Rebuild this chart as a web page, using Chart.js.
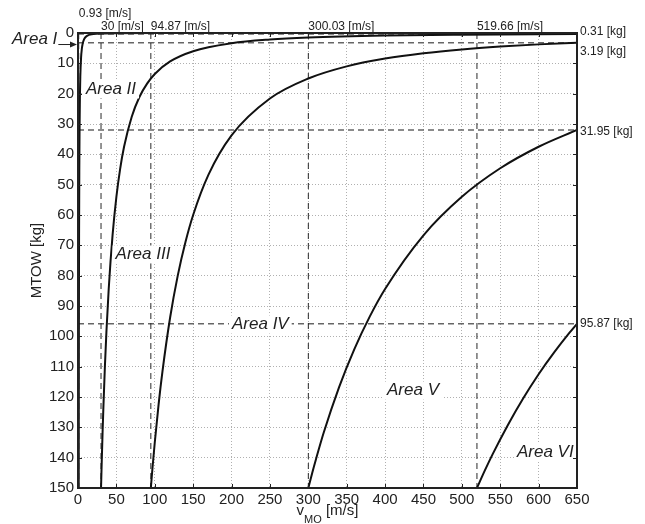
<!DOCTYPE html>
<html>
<head>
<meta charset="utf-8">
<script src="https://cdn.jsdelivr.net/npm/chart.js@4/dist/chart.umd.min.js"></script>
<style>
  html, body { margin: 0; padding: 0; background: #fff; }
  #wrap { width: 645px; height: 524px; }
</style>
</head>
<body>
<div id="wrap"><canvas id="chart" width="645" height="524"></canvas></div>
<script>
// speeds where each boundary curve meets MTOW = 150 kg
const boundarySpeeds = [0.93, 30, 94.87, 300.03, 519.66];
// MTOW where each boundary curve leaves the plot at v = 650 m/s
const boundaryMasses = [0.31, 3.19, 31.95, 95.87];

// constant kinetic-energy boundaries (v [m/s], MTOW [kg])
const curve1Speed = [0.93, 0.95, 1, 1.1, 1.2, 1.4, 1.7, 2, 2.5, 3, 4, 5, 6, 8, 10, 13, 16, 20, 30, 50, 100, 650];
const curve1Mass  = [150, 143.8, 129.7, 107.2, 90.1, 66.2, 44.9, 32.4, 20.8, 14.4, 8.11, 5.19, 3.60, 2.03, 1.30, 0.77, 0.51, 0.32, 0.14, 0.05, 0.013, 0.0003];

const curve2Speed = [30, 31, 32, 33, 35, 37, 40, 45, 50, 55, 60, 70, 80, 90, 100, 120, 150, 200, 250, 300, 400, 500, 650];
const curve2Mass  = [150, 140.5, 131.8, 124.0, 110.2, 98.6, 84.4, 66.7, 54.0, 44.6, 37.5, 27.6, 21.1, 16.7, 13.5, 9.38, 6.0, 3.38, 2.16, 1.5, 0.84, 0.54, 0.31];

const curve3Speed = [94.87, 97, 100, 105, 110, 120, 130, 140, 150, 170, 200, 250, 300, 350, 400, 450, 500, 550, 600, 650];
const curve3Mass  = [150, 143.5, 135.0, 122.4, 111.6, 93.8, 79.9, 68.9, 60.0, 46.7, 33.75, 21.6, 15.0, 11.0, 8.44, 6.67, 5.4, 4.46, 3.75, 3.19];

const curve4Speed = [300.03, 305, 310, 320, 340, 360, 380, 400, 450, 500, 550, 600, 650];
const curve4Mass  = [150, 145.1, 140.5, 131.8, 116.8, 104.2, 93.5, 84.4, 66.7, 54.0, 44.6, 37.5, 31.95];

const curve5Speed = [519.66, 530, 540, 560, 580, 600, 620, 640, 650];
const curve5Mass  = [150, 144.2, 138.9, 129.2, 120.4, 112.5, 105.4, 98.9, 95.87];

const areaNames = ["Area I", "Area II", "Area III", "Area IV", "Area V", "Area VI"];

const speedMax = 650;
const massMax = 150;

// where the area names sit, in axis units (left edge, vertical centre)
const areaLabelAt = [[-86, 2.1], [10.4, 18.6], [49, 73], [200.6, 96.1], [402.5, 117.9], [571.8, 138.3]];
const topLabelY = [14, 26.5, 26.5, 26.5, 26.5];
const rightLabelDy = [-2.5, 9, 1.3, 0];

const FONT = '"Liberation Sans", Arial, Helvetica, sans-serif';
const INK = '#222';

function pairs(xs, ys) {
  return xs.map((x, i) => ({ x: x, y: ys[i] }));
}

const curves = [
  [curve1Speed, curve1Mass],
  [curve2Speed, curve2Mass],
  [curve3Speed, curve3Mass],
  [curve4Speed, curve4Mass],
  [curve5Speed, curve5Mass]
];

const datasets = [];
curves.forEach(c => {
  datasets.push({
    data: pairs(c[0], c[1]),
    showLine: true,
    borderColor: '#111',
    borderWidth: 2,
    pointRadius: 0,
    cubicInterpolationMode: 'monotone'
  });
});
boundarySpeeds.forEach(v => {
  datasets.push({
    data: [{ x: v, y: 0 }, { x: v, y: massMax }],
    showLine: true,
    borderColor: '#2a2a2a',
    borderWidth: 1,
    borderDash: [6, 4],
    pointRadius: 0
  });
});
boundaryMasses.forEach(m => {
  datasets.push({
    data: [{ x: 0, y: m }, { x: speedMax, y: m }],
    showLine: true,
    borderColor: '#666',
    borderWidth: 1.5,
    borderDash: [6, 4],
    pointRadius: 0
  });
});

const framePlugin = {
  id: 'frame',
  afterDatasetsDraw(chart) {
    const ctx = chart.ctx;
    const xs = chart.scales.x, ys = chart.scales.y;
    const a = chart.chartArea;

    // area names, with a white box behind the ones inside the plot
    ctx.save();
    ctx.font = 'italic 17px ' + FONT;
    ctx.textBaseline = 'middle';
    ctx.textAlign = 'left';
    areaNames.forEach((name, i) => {
      const px = xs.getPixelForValue(areaLabelAt[i][0]);
      const py = ys.getPixelForValue(areaLabelAt[i][1]);
      const w = ctx.measureText(name).width;
      if (i > 0) {
        ctx.fillStyle = '#fff';
        ctx.fillRect(px - 3, py - 9, w + 6, 18);
      }
      ctx.fillStyle = INK;
      ctx.fillText(name, px, py);
      if (i === 0) {
        // arrow from "Area I" to the first boundary
        const ay = ys.getPixelForValue(3.8);
        const x1 = px + w + 1, x2 = a.left - 1;
        ctx.strokeStyle = INK;
        ctx.lineWidth = 1;
        ctx.beginPath();
        ctx.moveTo(x1, ay);
        ctx.lineTo(x2 - 5, ay);
        ctx.stroke();
        ctx.beginPath();
        ctx.moveTo(x2, ay);
        ctx.lineTo(x2 - 7, ay - 3);
        ctx.lineTo(x2 - 7, ay + 3);
        ctx.closePath();
        ctx.fill();
      }
    });
    ctx.restore();

    // box and inward ticks
    ctx.save();
    ctx.strokeStyle = INK;
    ctx.lineWidth = 1;
    xs.ticks.forEach(t => {
      const px = Math.round(xs.getPixelForValue(t.value)) + 0.5;
      ctx.beginPath();
      ctx.moveTo(px, a.bottom); ctx.lineTo(px, a.bottom - 4);
      ctx.moveTo(px, a.top); ctx.lineTo(px, a.top + 4);
      ctx.stroke();
    });
    ys.ticks.forEach(t => {
      const py = Math.round(ys.getPixelForValue(t.value)) + 0.5;
      ctx.beginPath();
      ctx.moveTo(a.left, py); ctx.lineTo(a.left + 4, py);
      ctx.moveTo(a.right, py); ctx.lineTo(a.right - 4, py);
      ctx.stroke();
    });
    ctx.lineWidth = 2;
    ctx.strokeRect(a.left, a.top, a.right - a.left, a.bottom - a.top);
    ctx.restore();

    // boundary values above and to the right of the plot
    ctx.save();
    ctx.font = '12px ' + FONT;
    ctx.fillStyle = INK;
    ctx.textBaseline = 'middle';
    ctx.textAlign = 'left';
    boundarySpeeds.forEach((v, i) => {
      ctx.fillText(v + ' [m/s]', xs.getPixelForValue(v), topLabelY[i]);
    });
    boundaryMasses.forEach((m, i) => {
      ctx.fillText(m + ' [kg]', a.right + 3, ys.getPixelForValue(m) + rightLabelDy[i]);
    });
    ctx.restore();

    // axis titles
    ctx.save();
    ctx.fillStyle = INK;
    ctx.textBaseline = 'alphabetic';
    ctx.font = '15px ' + FONT;
    const wv = ctx.measureText('v').width;
    const wu = ctx.measureText(' [m/s]').width;
    ctx.font = '11px ' + FONT;
    const ws = ctx.measureText('MO').width;
    let tx = (a.left + a.right) / 2 - (wv + ws + wu) / 2;
    ctx.font = '15px ' + FONT;
    ctx.fillText('v', tx, 515);
    ctx.font = '11px ' + FONT;
    ctx.fillText('MO', tx + wv, 523);
    ctx.font = '15px ' + FONT;
    ctx.fillText(' [m/s]', tx + wv + ws, 515);

    ctx.translate(37, (a.top + a.bottom) / 2);
    ctx.rotate(-Math.PI / 2);
    ctx.textAlign = 'center';
    ctx.textBaseline = 'middle';
    ctx.fillText('MTOW [kg]', 0, 0);
    ctx.restore();
  }
};

const tickFont = { family: FONT, size: 15 };

new Chart(document.getElementById('chart'), {
  type: 'scatter',
  data: { datasets: datasets },
  options: {
    responsive: false,
    animation: false,
    layout: { padding: { left: 0, top: 33, right: 68, bottom: 0 } },
    plugins: { legend: { display: false }, tooltip: { enabled: false } },
    scales: {
      x: {
        type: 'linear',
        min: 0,
        max: speedMax,
        afterFit(s) { s.height = 36; },
        ticks: { stepSize: 50, font: tickFont, color: INK, padding: 3, maxRotation: 0, autoSkip: false },
        grid: { color: '#b0b0b0', lineWidth: 1, drawTicks: false },
        border: { display: false, dash: [1, 2] }
      },
      y: {
        type: 'linear',
        reverse: true,
        min: 0,
        max: massMax,
        afterFit(s) { s.width = 78; },
        ticks: { stepSize: 10, font: tickFont, color: INK, padding: 4, autoSkip: false },
        grid: { color: '#b0b0b0', lineWidth: 1, drawTicks: false },
        border: { display: false, dash: [1, 2] }
      }
    }
  },
  plugins: [framePlugin]
});
</script>
</body>
</html>
